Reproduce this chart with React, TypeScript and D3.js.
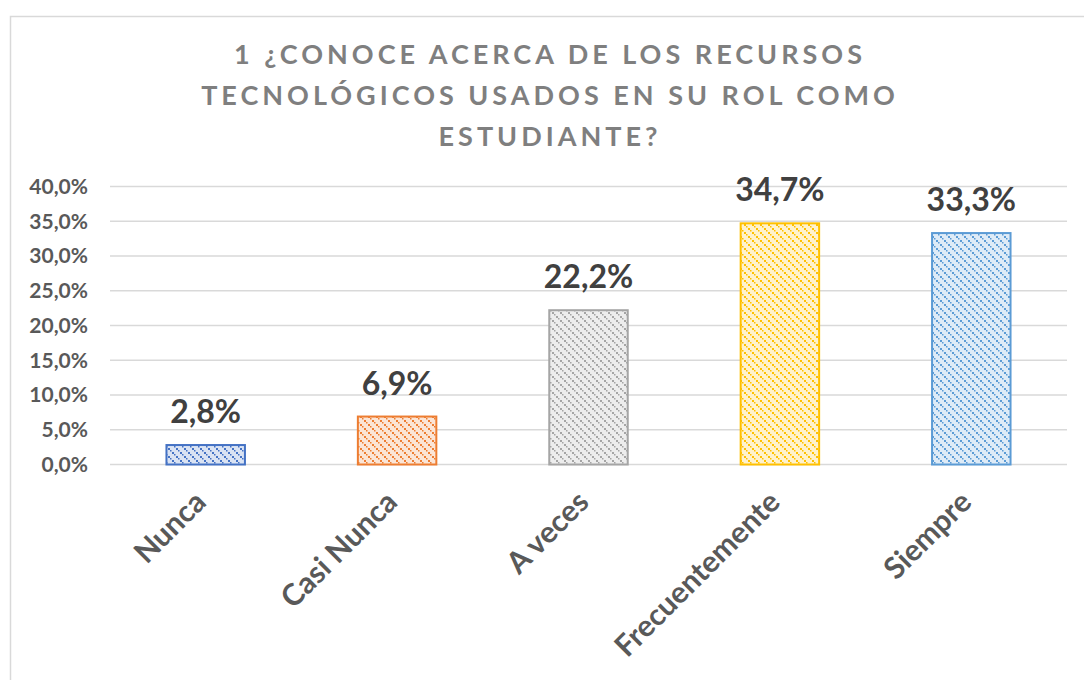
import * as d3 from 'd3';

const categories = ['Nunca', 'Casi Nunca', 'A veces', 'Frecuentemente', 'Siempre'];
const values = [2.8, 6.9, 22.2, 34.7, 33.3];
const yTicks = [0, 5, 10, 15, 20, 25, 30, 35, 40];
const titleLines = [
  '1 ¿CONOCE ACERCA DE LOS RECURSOS',
  'TECNOLÓGICOS USADOS EN SU ROL COMO',
  'ESTUDIANTE?',
];
const strokes = ['#4472c4', '#ed7d31', '#a5a5a5', '#ffc000', '#5b9bd5'];
const fills = ['#dae3f3', '#fbe5d6', '#ededed', '#fff2cc', '#deebf7'];

const fmt = (v: number) => v.toFixed(1).replace('.', ',') + '%';

export default function App() {
  const width = 1084;
  const height = 680;
  const margin = { left: 110, right: 17, top: 186.5, bottom: 215.5 };

  const x = d3
    .scaleBand()
    .domain(categories)
    .range([margin.left, width - margin.right])
    .paddingInner(0.59)
    .paddingOuter(0.295);

  const y = d3
    .scaleLinear()
    .domain([0, 40])
    .range([height - margin.bottom, margin.top]);

  const font = 'Lato, "Open Sans", sans-serif';

  return (
    <div style={{ position: 'fixed', left: 0, top: 0 }}>
      <svg width={width} height={height} style={{ display: 'block', background: '#fff' }}>
        <defs>
          {categories.map((c, i) => (
            <pattern key={c} id={`pat${i}`} width={8} height={8} patternUnits="userSpaceOnUse">
              <rect width={8} height={8} fill={fills[i]} />
              <rect x={0} y={0} width={2} height={2} fill={strokes[i]} />
              <rect x={2} y={2} width={1.5} height={1.5} fill={strokes[i]} />
              <rect x={4} y={4} width={2} height={2} fill={strokes[i]} />
              <rect x={6} y={6} width={1.5} height={1.5} fill={strokes[i]} />
            </pattern>
          ))}
        </defs>
        <rect x={10.5} y={16.5} width={1200} height={800} fill="#fff" stroke="#d9d9d9" strokeWidth={1.5} />

        {titleLines.map((t, i) => (
          <text
            key={t}
            x={550}
            y={64 + i * 41}
            textAnchor="middle"
            fontFamily={font}
            fontWeight={700}
            fontSize={27}
            letterSpacing={4}
            fill="#7f7f7f"
          >
            {t}
          </text>
        ))}

        {yTicks.map((t) => (
          <g key={t}>
            <line
              x1={margin.left}
              x2={width - margin.right}
              y1={y(t)}
              y2={y(t)}
              stroke="#d9d9d9"
              strokeWidth={1.5}
            />
            <text
              x={88}
              y={y(t)}
              dy="0.35em"
              textAnchor="end"
              fontFamily={font}
              fontWeight={700}
              fontSize={21}
              fill="#595959"
            >
              {fmt(t)}
            </text>
          </g>
        ))}

        {categories.map((c, i) => {
          const bx = x(c) as number;
          const cx = bx + x.bandwidth() / 2;
          return (
            <g key={c}>
              <rect
                x={bx}
                y={y(values[i])}
                width={x.bandwidth()}
                height={y(0) - y(values[i])}
                fill={`url(#pat${i})`}
                stroke={strokes[i]}
                strokeWidth={2}
              />
              <text
                x={cx}
                y={y(values[i]) - 22}
                textAnchor="middle"
                fontFamily={font}
                fontWeight={700}
                fontSize={32}
                fill="#404040"
              >
                {fmt(values[i])}
              </text>
              <text
                transform={`translate(${cx + 2},${504}) rotate(-45)`}
                textAnchor="end"
                fontFamily={font}
                fontWeight={700}
                fontSize={30}
                fill="#595959"
              >
                {c}
              </text>
            </g>
          );
        })}
      </svg>
    </div>
  );
}
